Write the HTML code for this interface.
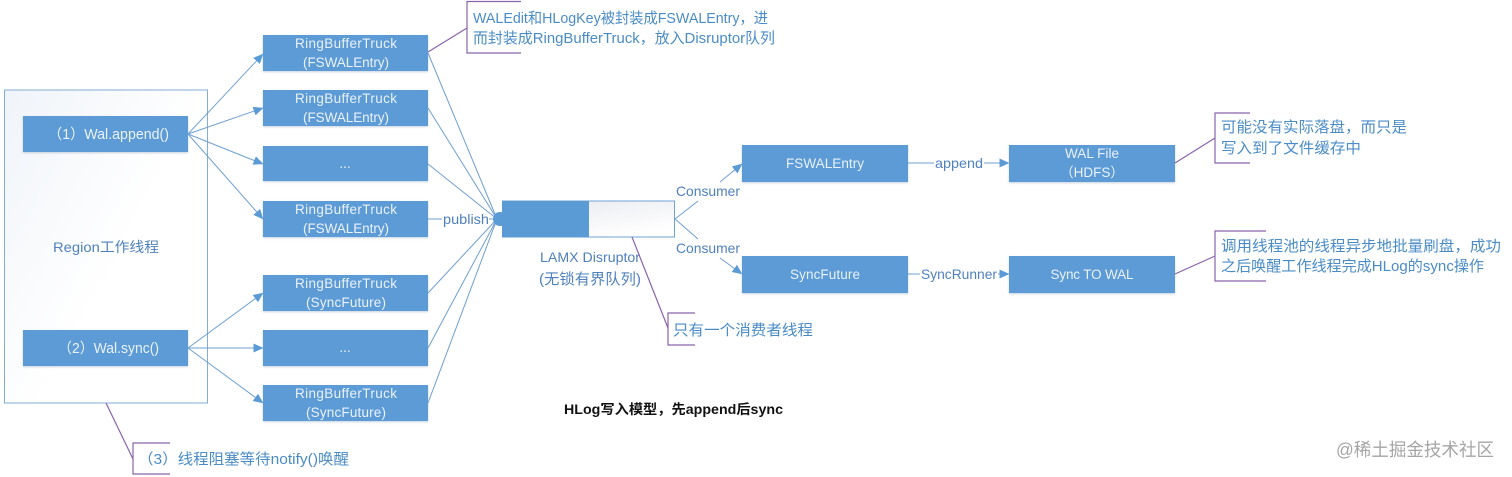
<!DOCTYPE html>
<html>
<head>
<meta charset="utf-8">
<style>
html,body{margin:0;padding:0;background:#fff;overflow:hidden;}
svg{display:block;filter:blur(0.35px);}
text{font-family:"Liberation Sans","Noto Sans CJK SC",sans-serif;}
.w{fill:#eaf2fa;font-size:13.5px;text-anchor:middle;}
.b{fill:#4f81bd;font-size:13.5px;}
.c{fill:#4a8cc6;font-size:15px;}
.box{fill:#5b9bd5;filter:url(#sh);}
.l{stroke:#6f9fd0;stroke-width:1;fill:none;}
.p{stroke:#8a63ac;stroke-width:1.2;fill:none;}
</style>
</head>
<body>
<svg width="1512" height="477" viewBox="0 0 1512 477" xmlns="http://www.w3.org/2000/svg">
<defs>
<filter id="sh" x="-5%" y="-10%" width="110%" height="125%">
<feDropShadow dx="0" dy="1" stdDeviation="1" flood-color="#9db4c8" flood-opacity="0.6"/>
</filter>
<linearGradient id="g1" x1="0" y1="0" x2="0.6" y2="0.5">
<stop offset="0" stop-color="#f0f4f9"/><stop offset="1" stop-color="#ffffff"/>
</linearGradient>
<linearGradient id="g2" x1="0" y1="0" x2="0.7" y2="1">
<stop offset="0" stop-color="#e6e8ee"/><stop offset="1" stop-color="#ffffff"/>
</linearGradient>
<marker id="a" markerWidth="10" markerHeight="10" refX="9.5" refY="5" orient="auto" markerUnits="userSpaceOnUse">
<path d="M0 0.5L10 5L0 9.5Z" fill="#5b9bd5"/>
</marker>
</defs>
<rect width="1512" height="477" fill="#fff"/>

<rect x="4.5" y="90" width="203" height="313" fill="url(#g1)" stroke="#80aed6" stroke-width="1"/>
<text x="53" y="252" class="b" textLength="106" lengthAdjust="spacingAndGlyphs" style="font-size:14px">Region工作线程</text>

<rect class="box" x="23" y="116" width="165" height="36"/>
<text x="48" y="139" class="w" textLength="121" lengthAdjust="spacingAndGlyphs" style="font-size:14.5px;text-anchor:start">（1）Wal.append()</text>
<rect class="box" x="23" y="330" width="165" height="36"/>
<text x="58" y="353" class="w" textLength="101" lengthAdjust="spacingAndGlyphs" style="font-size:14.5px;text-anchor:start">（2）Wal.sync()</text>

<path class="l" d="M188 134L263 54" marker-end="url(#a)"/>
<path class="l" d="M188 134L263 108" marker-end="url(#a)"/>
<path class="l" d="M188 134L263 164" marker-end="url(#a)"/>
<path class="l" d="M188 134L263 219" marker-end="url(#a)"/>
<path class="l" d="M188 348L263 293" marker-end="url(#a)"/>
<path class="l" d="M188 348L263 348" marker-end="url(#a)"/>
<path class="l" d="M188 348L263 403" marker-end="url(#a)"/>

<rect class="box" x="263" y="35" width="165" height="36"/>
<text x="346" y="48" class="w" textLength="102">RingBufferTruck</text><text x="346" y="67" class="w" textLength="86">(FSWALEntry)</text>
<rect class="box" x="263" y="90" width="165" height="36"/>
<text x="346" y="103" class="w" textLength="102">RingBufferTruck</text><text x="346" y="122" class="w" textLength="86">(FSWALEntry)</text>
<rect class="box" x="263" y="146" width="165" height="35"/>
<text x="345" y="168" class="w">...</text>
<rect class="box" x="263" y="201" width="165" height="36"/>
<text x="346" y="214" class="w" textLength="102">RingBufferTruck</text><text x="346" y="233" class="w" textLength="86">(FSWALEntry)</text>
<rect class="box" x="263" y="275" width="165" height="36"/>
<text x="346" y="288" class="w" textLength="102">RingBufferTruck</text><text x="346" y="307" class="w" textLength="80">(SyncFuture)</text>
<rect class="box" x="263" y="330" width="165" height="36"/>
<text x="345" y="352" class="w">...</text>
<rect class="box" x="263" y="385" width="165" height="36"/>
<text x="346" y="398" class="w" textLength="102">RingBufferTruck</text><text x="346" y="417" class="w" textLength="80">(SyncFuture)</text>

<path class="l" d="M428 53L497 219M428 108L497 219M428 164L497 219M428 293L497 219M428 348L497 219M428 403L497 219"/>
<path class="l" d="M428 219H442M489 219H494"/>
<text x="443" y="224" class="b" textLength="46" lengthAdjust="spacingAndGlyphs" style="font-size:14px">publish</text>

<circle cx="500" cy="219" r="7" fill="#5b9bd5"/>
<rect x="502.5" y="201" width="172" height="36" fill="url(#g2)" stroke="#6fa3d4" stroke-width="1"/>
<rect x="502" y="201" width="87" height="36.5" fill="#5b9bd5"/>
<text x="540" y="262" class="b" textLength="100" lengthAdjust="spacingAndGlyphs" style="font-size:14px">LAMX Disruptor</text>
<text x="539" y="284" class="b" textLength="102" lengthAdjust="spacingAndGlyphs" style="font-size:15px">(无锁有界队列)</text>

<path class="l" d="M675 219L698 201"/>
<path class="l" d="M720 182L742 164" marker-end="url(#a)"/>
<path class="l" d="M675 219L698 239"/>
<path class="l" d="M720 258L742 274" marker-end="url(#a)"/>
<text x="676" y="196" class="b" textLength="64" lengthAdjust="spacingAndGlyphs" style="font-size:14px">Consumer</text>
<text x="676" y="253" class="b" textLength="64" lengthAdjust="spacingAndGlyphs" style="font-size:14px">Consumer</text>

<rect class="box" x="742" y="145" width="166" height="37"/>
<text x="825" y="168" class="w" textLength="78">FSWALEntry</text>
<rect class="box" x="742" y="256" width="166" height="37"/>
<text x="825" y="279" class="w" textLength="70">SyncFuture</text>
<rect class="box" x="1009" y="145" width="166" height="37"/>
<text x="1092" y="158" class="w" textLength="54">WAL File</text><text x="1092" y="177" class="w">（HDFS）</text>
<rect class="box" x="1009" y="256" width="166" height="37"/>
<text x="1092" y="279" class="w" textLength="83">Sync TO WAL</text>

<path class="l" d="M908 163H934"/>
<path class="l" d="M984 163H1009" marker-end="url(#a)"/>
<text x="935" y="168" class="b" textLength="48" lengthAdjust="spacingAndGlyphs" style="font-size:14px">append</text>
<path class="l" d="M908 274H920"/>
<path class="l" d="M998 274H1009" marker-end="url(#a)"/>
<text x="921" y="279" class="b" textLength="76" lengthAdjust="spacingAndGlyphs" style="font-size:14px">SyncRunner</text>

<path class="p" d="M428 52L467 28"/>
<path class="p" d="M521 1.5H467V53H521"/>
<text x="473" y="23" class="c" textLength="295" lengthAdjust="spacingAndGlyphs">WALEdit和HLogKey被封装成FSWALEntry，进</text>
<text x="473" y="43" class="c" textLength="302" lengthAdjust="spacingAndGlyphs">而封装成RingBufferTruck，放入Disruptor队列</text>

<path class="p" d="M1175 163L1215 138"/>
<path class="p" d="M1250 113H1215V163H1250"/>
<text x="1221" y="132" class="c" textLength="186" lengthAdjust="spacingAndGlyphs">可能没有实际落盘，而只是</text>
<text x="1221" y="153" class="c" textLength="140" lengthAdjust="spacingAndGlyphs">写入到了文件缓存中</text>

<path class="p" d="M1175 274L1215 256"/>
<path class="p" d="M1266 231H1215V281H1266"/>
<text x="1221" y="251" class="c" textLength="280" lengthAdjust="spacingAndGlyphs">调用线程池的线程异步地批量刷盘，成功</text>
<text x="1221" y="271" class="c" textLength="263" lengthAdjust="spacingAndGlyphs">之后唤醒工作线程完成HLog的sync操作</text>

<path class="p" d="M632 237L668 328"/>
<path class="p" d="M695 313H668V345H695"/>
<text x="673" y="335" class="c" textLength="140" lengthAdjust="spacingAndGlyphs">只有一个消费者线程</text>

<path class="p" d="M106 403L133 459"/>
<path class="p" d="M170 443H133V474H170"/>
<text x="138" y="464" class="c" textLength="211" lengthAdjust="spacingAndGlyphs">（3）线程阻塞等待notify()唤醒</text>

<text x="564" y="414" textLength="219" lengthAdjust="spacingAndGlyphs" style="font-size:13.5px;font-weight:bold;fill:#111">HLog写入模型，先append后sync</text>
<text x="1336" y="456" textLength="158" lengthAdjust="spacingAndGlyphs" style="font-size:18px;fill:#a5a5a5">@稀土掘金技术社区</text>
</svg>
</body>
</html>
